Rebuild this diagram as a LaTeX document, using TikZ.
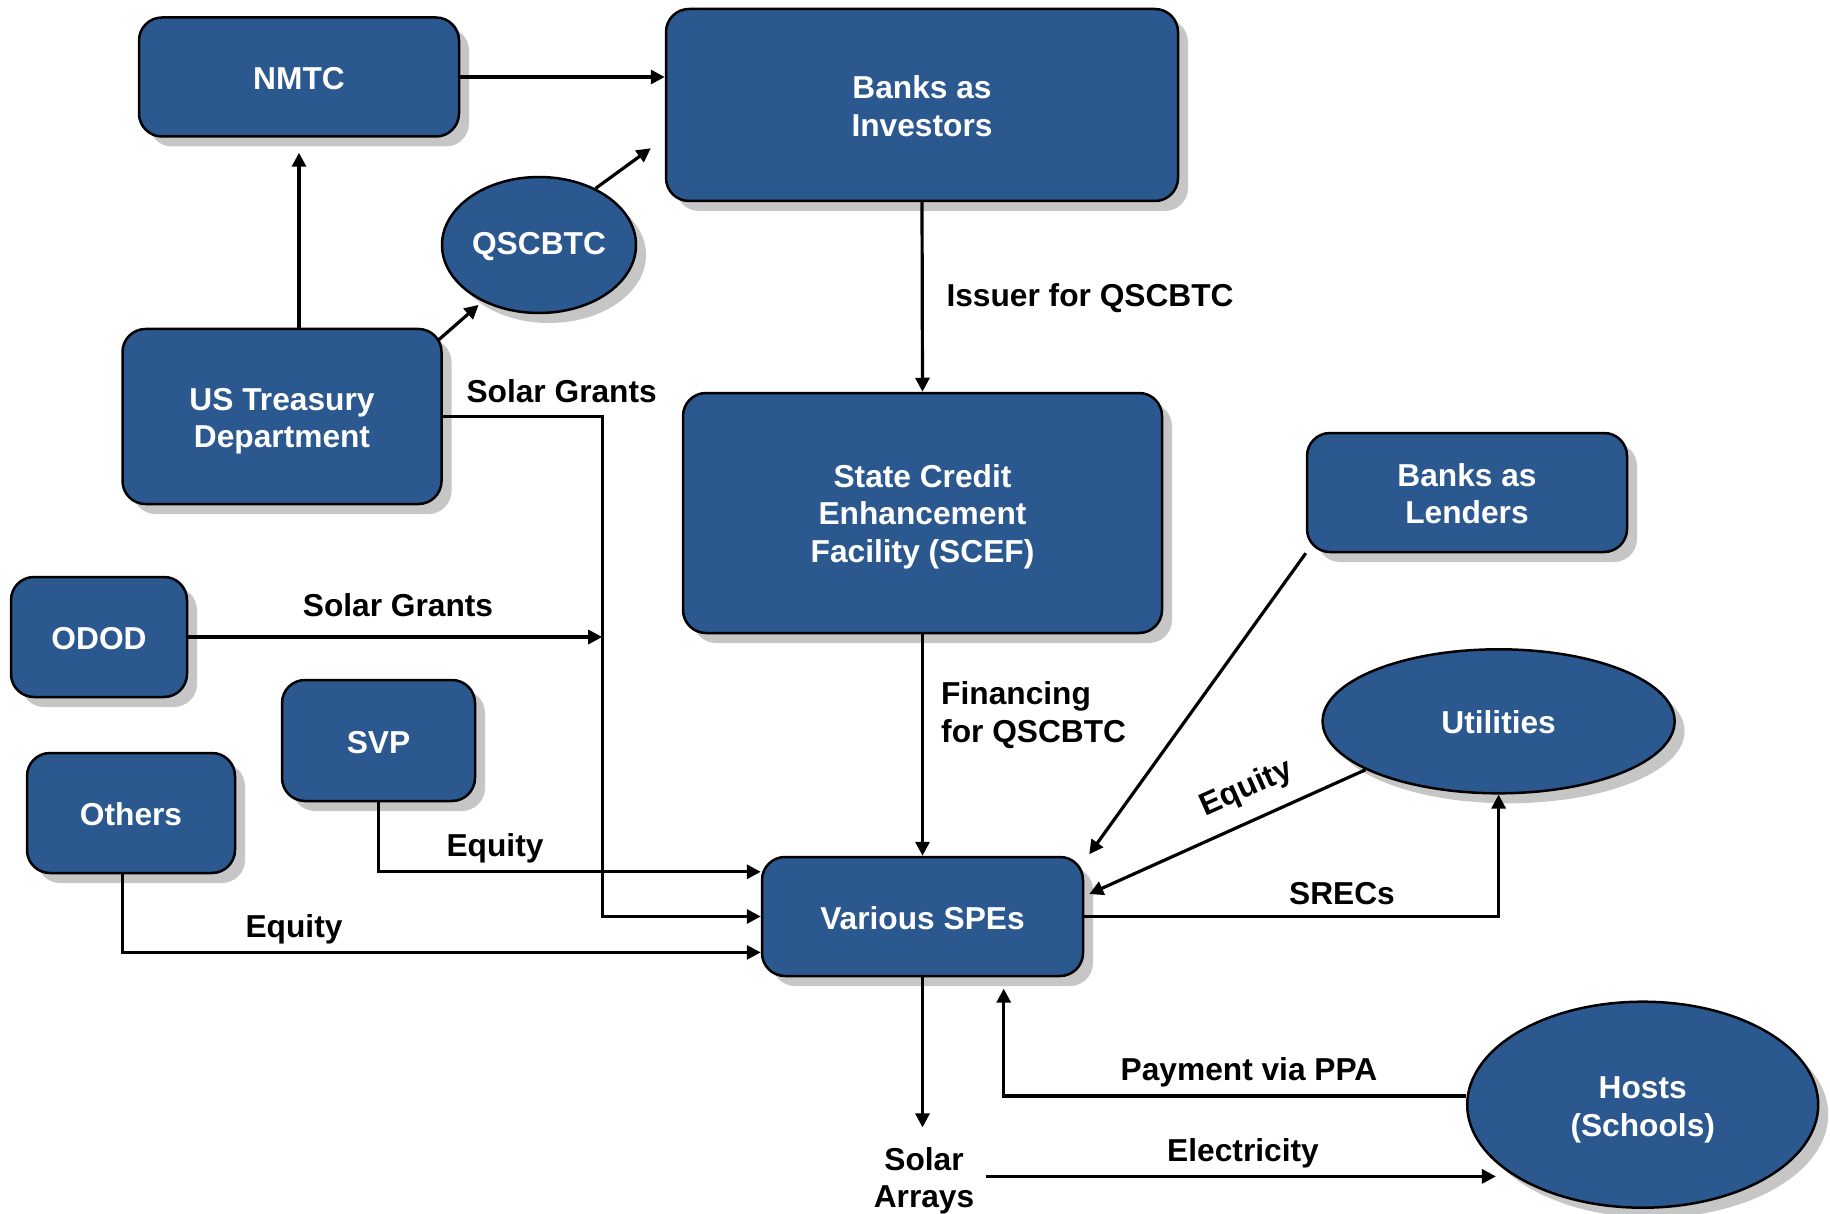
\documentclass[tikz,border=0pt]{standalone}
\usepackage{fontspec}
\setmainfont{Liberation Sans}
\usetikzlibrary{shapes.geometric,shadows,arrows.meta,calc}
\definecolor{boxblue}{RGB}{44,88,144}
\newcommand\mystrut[1]{\rule{0pt}{#1pt}}
\begin{document}
\begin{tikzpicture}[x=1pt,y=-1pt,
  every node/.style={font=\fontsize{31.7}{37.3}\selectfont\bfseries},
  shad/.style={drop shadow={shadow xshift=10pt,shadow yshift=-10pt,fill=gray!45,opacity=1}},
  box/.style={shad,draw=black,line width=2.5pt,fill=boxblue,text=white,rounded corners=23pt,align=center,inner sep=0pt},
  oval/.style={shad,ellipse,draw=black,line width=2.5pt,fill=boxblue,text=white,align=center,inner sep=0pt},
  one/.style={execute at begin node={\rule{0pt}{25.5pt}}},
  arr/.style={line width=3.2pt,-{Triangle[length=14pt,width=14pt]}},
  lbl/.style={anchor=base,align=left}]
\useasboundingbox (0,0) rectangle (1830,1214);
% nodes
\node[box,one,minimum width=320pt,minimum height=119pt] (nmtc) at (299,77) {NMTC};
\node[box,minimum width=512pt,minimum height=192pt] (bi) at (922,105) {\mystrut{25.5}Banks as\\Investors};
\node[oval,one,minimum width=194pt,minimum height=136pt] (q) at (539,245) {QSCBTC};
\node[box,minimum width=319pt,minimum height=175pt] (tre) at (282,416.5) {\mystrut{32}US Treasury\\Department};
\node[box,minimum width=479pt,minimum height=240pt] (st) at (922.5,513) {\mystrut{30}State Credit\\Enhancement\\Facility (SCEF)};
\node[box,minimum width=320pt,minimum height=119pt] (len) at (1467,492.5) {\mystrut{25.5}Banks as\\Lenders};
\node[box,one,minimum width=176pt,minimum height=120pt] (odod) at (99,637) {ODOD};
\node[box,one,minimum width=193pt,minimum height=121pt] (svp) at (378.5,740.5) {SVP};
\node[box,one,minimum width=208pt,minimum height=120pt] (oth) at (131,813) {Others};
\node[oval,one,minimum width=352pt,minimum height=144pt] (ut) at (1498.6,721.3) {Utilities};
\node[box,one,minimum width=321pt,minimum height=119pt] (spe) at (922.5,916.5) {Various SPEs};
\node[oval,minimum width=351pt,minimum height=206pt] (hosts) at (1642.7,1104.7) {\mystrut{32}Hosts\\(Schools)};
\node[align=center,inner sep=0pt] (solar) at (924,1181) {Solar\\Arrays};
\coordinate (j) at (602.2,637);
% connectors
\draw[arr] (nmtc.east) -- (nmtc.east -| bi.west);
\draw[arr] (tre.north -| nmtc.south) -- ([yshift=-15pt]nmtc.south);
\draw[arr,shorten >=5pt] ([xshift=-4pt,yshift=-12pt]tre.north east) -- (q.225);
\draw[arr] (q.45) -- ([xshift=-14pt,yshift=54pt]bi.south west);
\draw[arr] (bi.south) -- (st.north);
\draw[arr] (st.south) -- (spe.north);
\draw[arr] (tre.east) -| (j) |- (spe.west);
\draw[arr] (odod.east) -- (j);
\draw[arr] (svp.south) |- ([yshift=44.7pt]spe.west);
\draw[arr] ([xshift=-8.5pt]oth.south) |- ([yshift=-35.9pt]spe.west);
\draw[arr] (len.south west) -- ([xshift=5pt,yshift=1.5pt]spe.north east);
\draw[arr] (ut.200) -- ([xshift=5pt,yshift=22.5pt]spe.east);
\draw[arr] (spe.east) -| (ut.south);
\draw[arr,shorten >=20pt] (spe.south) -- (spe.south |- solar.north);
\draw[arr] ($(hosts.west)+(0,8.8pt)$) -| ($(spe.south)+(81.2pt,-11.4pt)$);
\draw[arr] ($(solar.east)+(12pt,4.6pt)$) -- ($(solar.east -| hosts.west)+(30pt,4.6pt)$);
% labels
\node[lbl,anchor=base west] (l1) at (943,306.5) {Issuer for QSCBTC};
\node[align=left,anchor=west,inner sep=0pt] (l2) at (941,715) {Financing\\for QSCBTC};
\node[lbl,anchor=base west] (l3) at (463,402.5) {Solar Grants};
\node[lbl] (l4) at (398,616) {Solar Grants};
\node[lbl] (l5) at (495,856.5) {Equity};
\node[lbl] (l6) at (294,937) {Equity};
\node[rotate=24,inner sep=0pt] (l7) at (1246.5,789) {Equity};
\node[lbl] (l8) at (1342,904.5) {SRECs};
\node[lbl] (l9) at (1249,1080.5) {Payment via PPA};
\node[lbl] (l10) at (1243,1161) {Electricity};
\end{tikzpicture}
\end{document}
